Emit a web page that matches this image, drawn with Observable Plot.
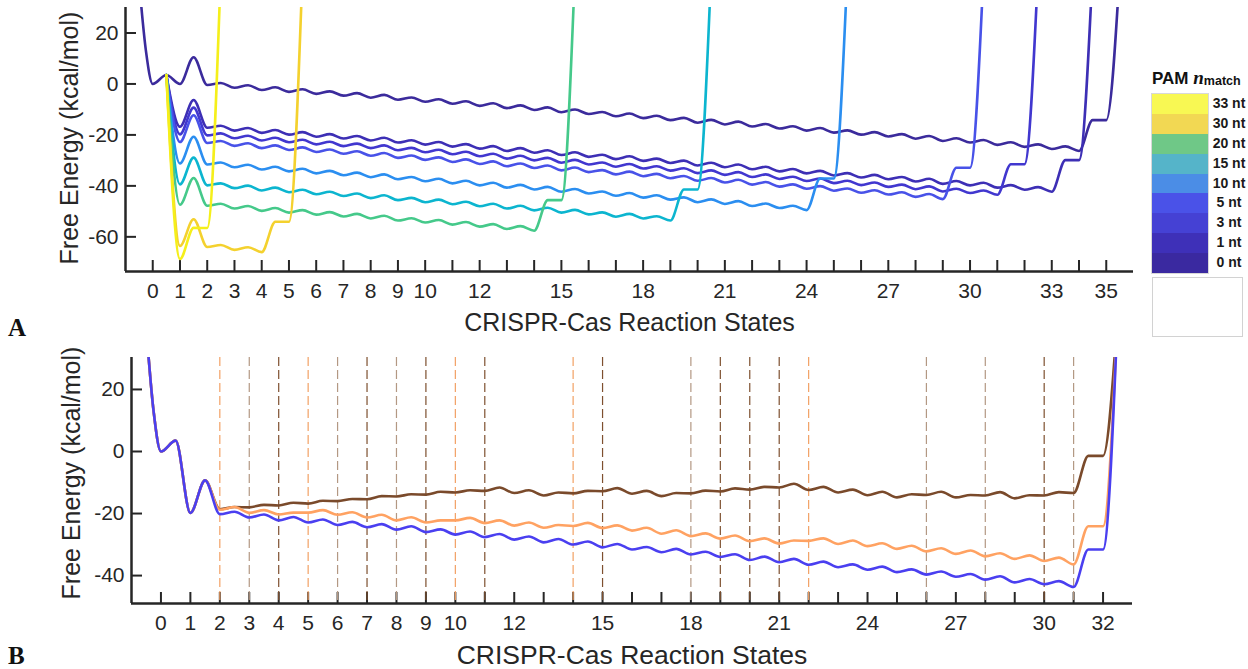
<!DOCTYPE html>
<html>
<head>
<meta charset="utf-8">
<script src="https://cdn.jsdelivr.net/npm/d3@7"></script>
<script src="https://cdn.jsdelivr.net/npm/@observablehq/plot@0.6"></script>
<style>
  html, body { margin: 0; padding: 0; background: #fff; }
  body { width: 1248px; height: 669px; overflow: hidden; font-family: "Liberation Sans", Arial, sans-serif; color: #262626; }
  #root { position: relative; width: 1248px; height: 669px; }
  #plotA, #plotB { position: absolute; left: 0; }
  #plotA { top: 0; }
  #plotB { top: 340px; }
  .panel { position: absolute; font-family: "Liberation Serif", "Times New Roman", serif; font-weight: bold; color: #111; line-height: 1; }
  .ylab { position: absolute; width: 280px; height: 30px; line-height: 30px; text-align: center; font-size: 25px; color: #262626; transform: rotate(-90deg); transform-origin: 50% 50%; white-space: nowrap; }
  #legend { position: absolute; left: 1152px; top: 68px; width: 96px; }
  #legendTitle { font-weight: bold; font-size: 17px; line-height: 20px; white-space: nowrap; color: #111; }
  #legendTitle i { font-family: "Liberation Serif", serif; font-size: 19px; font-weight: bold; }
  #legendTitle sub { font-size: 12.5px; vertical-align: -1px; }
  #legendRows { position: absolute; left: 0; top: 26px; width: 100px; }
  .lrow { position: relative; height: 19.9px; }
  .lsw { position: absolute; left: 0; top: 0; width: 56px; height: 19.9px; }
  .llab { position: absolute; left: 58px; width: 38px; top: 0; height: 19.9px; line-height: 19.9px; text-align: center; font-weight: bold; font-size: 14px; color: #1a1a1a; }
  #swBorder { position: absolute; left: -1px; top: 25px; width: 56px; height: 179px; border: 1px solid #d8d8d8; }
  #emptyBox { position: absolute; left: 1152px; top: 277px; width: 89px; height: 58px; border: 1px solid #d2d2d2; background: #fff; }
</style>
</head>
<body>
<div id="root">
  <div id="plotA"></div>
  <div id="plotB"></div>
  <div class="ylab" id="ylabA" style="left:-71px; top:123px;"></div>
  <div class="ylab" id="ylabB" style="left:-69px; top:458px;"></div>
  <div class="panel" style="left:8px; top:315px; font-size:25px;">A</div>
  <div class="panel" style="left:8px; top:643px; font-size:25px;">B</div>
  <div id="legend">
    <div id="legendTitle">PAM <i>n</i><sub>match</sub></div>
    <div id="swBorder"></div>
    <div id="legendRows"></div>
  </div>
  <div id="emptyBox"></div>
</div>
<script>
// ================= DATA =================
const yLabel = "Free Energy (kcal/mol)";
const xLabel = "CRISPR-Cas Reaction States";

// ---- Panel A ----
const tickLabelsA = [0,1,2,3,4,5,6,7,8,9,10,12,15,18,21,24,27,30,33,35];
const tickStatesA = d3.range(0, 36);
const yTicksA = [20, 0, -20, -40, -60];

// Shared entry of every landscape (state, energy)
const entryStates = [-0.5, -0.25, 0, 0.5];
const entryEnergy = [40, 13, 0, 3.5];
const exitEnergy = 45;   // energy reached just after the last plateau (off the top)

// Series (PAM n_match), drawn in this order
const seriesA = ["0 nt", "1 nt", "3 nt", "5 nt", "10 nt", "15 nt", "20 nt", "30 nt", "33 nt"];
const lineColorsA = ["#3b2b9c", "#3d2fb5", "#4137cf", "#4852e8", "#2b8ef0", "#0cb5cf", "#45c98a", "#f4d12e", "#f5ef1a"];
const legendColorsA = ["#3a29a0", "#3e30b8", "#4541d4", "#4a52e8", "#4b8de6", "#55b4c9", "#6fc887", "#f2d853", "#f8f853"];

// Energies at states 1, 1.5, 2, 2.5, ... (state minima and barriers)
const e0nt = [
  0.0, 10.5, -0.4, 0.4, -1.5, -0.5, -2.4, -1.3,
  -3.1, -2.1, -3.9, -2.9, -4.6, -3.6, -5.4, -4.3,
  -6.2, -5.3, -7.0, -6.0, -7.8, -6.8, -8.6, -7.6,
  -9.5, -8.4, -10.2, -9.2, -11.1, -10.0, -11.8, -11.0,
  -12.7, -11.6, -13.4, -12.5, -14.2, -13.3, -15.2, -14.1,
  -15.9, -14.8, -16.7, -15.7, -17.5, -16.6, -18.3, -17.3,
  -19.1, -18.2, -19.9, -18.9, -20.6, -19.7, -21.5, -20.4,
  -22.4, -21.3, -23.0, -22.0, -23.9, -22.9, -24.7, -23.7,
  -25.5, -24.5,
  -26.3];
const e1nt = [
  -16.8, -6.3, -17.2, -16.4, -18.3, -17.3, -19.2, -18.1,
  -19.9, -18.9, -20.7, -19.7, -21.4, -20.4, -22.2, -21.1,
  -23.0, -22.1, -23.8, -22.8, -24.6, -23.6, -25.4, -24.4,
  -26.3, -25.2, -27.0, -26.0, -27.9, -26.8, -28.6, -27.8,
  -29.5, -28.4, -30.2, -29.3, -31.0, -30.1, -32.0, -30.9,
  -32.7, -31.6, -33.5, -32.5, -34.3, -33.4, -35.1, -34.1,
  -35.9, -35.0, -36.7, -35.7, -37.4, -36.5, -38.3, -37.2,
  -39.2, -38.1, -39.8, -38.8, -40.7, -39.7, -41.5, -40.5,
  -42.3];
const e3nt = [
  -19.8, -9.3, -20.2, -19.4, -21.3, -20.3, -22.2, -21.1,
  -22.9, -21.9, -23.7, -22.7, -24.4, -23.4, -25.2, -24.1,
  -26.0, -25.1, -26.8, -25.8, -27.6, -26.6, -28.4, -27.4,
  -29.3, -28.2, -30.0, -29.0, -30.9, -29.8, -31.6, -30.8,
  -32.5, -31.4, -33.2, -32.3, -34.0, -33.1, -35.0, -33.9,
  -35.7, -34.6, -36.5, -35.5, -37.3, -36.4, -38.1, -37.1,
  -38.9, -38.0, -39.7, -38.7, -40.4, -39.5, -41.3, -40.2,
  -42.2, -41.1, -42.8, -41.8,
  -43.5];
const e5nt = [
  -22.8, -12.3, -23.2, -22.4, -24.3, -23.3, -25.2, -24.1,
  -25.9, -24.9, -26.7, -25.7, -27.4, -26.4, -28.2, -27.1,
  -29.0, -28.1, -29.8, -28.8, -30.6, -29.6, -31.4, -30.4,
  -32.3, -31.2, -33.0, -32.0, -33.9, -32.8, -34.6, -33.8,
  -35.5, -34.4, -36.2, -35.3, -37.0, -36.1, -38.0, -36.9,
  -38.7, -37.6, -39.5, -38.5, -40.3, -39.4, -41.1, -40.1,
  -41.9, -41.0, -42.7, -41.7, -43.4, -42.5, -44.3, -43.2,
  -45.2];
const e10nt = [
  -31.2, -20.7, -31.6, -30.8, -32.7, -31.7, -33.6, -32.5,
  -34.3, -33.3, -35.1, -34.1, -35.8, -34.8, -36.6, -35.5,
  -37.4, -36.5, -38.2, -37.2, -39.0, -38.0, -39.8, -38.8,
  -40.7, -39.6, -41.4, -40.4, -42.3, -41.2, -43.0, -42.2,
  -43.9, -42.8, -44.6, -43.7, -45.4, -44.5, -46.4, -45.3,
  -47.1, -46.0, -47.9, -46.9, -48.7, -47.8,
  -49.5];
const e15nt = [
  -39.4, -28.9, -39.8, -39.0, -40.9, -39.9, -41.8, -40.7,
  -42.5, -41.5, -43.3, -42.3, -44.0, -43.0, -44.8, -43.7,
  -45.6, -44.7, -46.4, -45.4, -47.2, -46.2, -48.0, -47.0,
  -48.9, -47.8, -49.6, -48.6, -50.5, -49.4, -51.2, -50.4,
  -52.1, -51.0, -52.8, -51.9,
  -53.6];
const e20nt = [
  -47.4, -36.9, -47.8, -47.0, -48.9, -47.9, -49.8, -48.7,
  -50.5, -49.5, -51.3, -50.3, -52.0, -51.0, -52.8, -51.7,
  -53.6, -52.7, -54.4, -53.4, -55.2, -54.2, -56.0, -55.0,
  -56.9, -55.8,
  -57.6];
const e30nt = [-63.6, -53.1, -64.0, -63.2, -65.1, -64.1, -66.0];
const e33nt = [-68.7];
const energiesA = [e0nt, e1nt, e3nt, e5nt, e10nt, e15nt, e20nt, e30nt, e33nt];
// Plateau just before leaving the landscape
const plateauA = [-14.2, -29.9, -31.5, -32.9, -37.1, -41.4, -45.6, -54.1, -56.5];

// ---- Panel B ----
const tickLabelsB = [0,1,2,3,4,5,6,7,8,9,10,12,15,18,21,24,27,30,32];
const tickStatesB = d3.range(0, 33);
const yTicksB = [20, 0, -20, -40];

const seriesB = ["brown", "orange", "blue"];
const lineColorsB = ["#7a4a2b", "#ffa262", "#4a3ff0"];
const eBrown = [
  -19.8, -9.3, -18.6, -17.9, -18.0, -17.2, -17.4, -16.5,
  -16.8, -15.9, -16.0, -15.3, -15.4, -14.4, -14.5, -13.8,
  -13.9, -13.0, -13.2, -12.5, -12.7, -11.6, -13.4, -12.5,
  -14.2, -13.2, -13.5, -12.7, -12.8, -11.8, -13.6, -12.7,
  -14.4, -13.4, -13.5, -12.6, -12.9, -11.9, -12.3, -11.4,
  -11.6, -10.4, -12.4, -11.4, -13.2, -12.3, -14.1, -13.0,
  -14.8, -13.8, -14.0, -13.0, -14.8, -14.0, -14.2, -13.1,
  -15.1, -14.1, -14.2, -13.1,
  -13.4];
const eOrange = [
  -19.8, -9.3, -18.8, -17.9, -19.8, -18.9, -20.3, -19.7,
  -19.7, -18.9, -20.4, -19.6, -21.3, -20.4, -22.2, -21.2,
  -22.9, -22.2, -22.2, -21.4, -23.1, -22.2, -23.9, -22.9,
  -24.6, -23.7, -24.0, -23.0, -24.7, -23.8, -25.5, -24.6,
  -26.5, -25.4, -27.3, -26.4, -28.1, -27.1, -28.9, -28.0,
  -29.7, -28.7, -28.8, -28.0, -29.8, -28.7, -30.5, -29.6,
  -31.4, -30.4, -32.2, -31.2, -33.0, -31.9, -33.8, -32.8,
  -34.6, -33.5, -35.3, -34.2,
  -36.4];
const eBlue = [
  -19.8, -9.3, -20.2, -19.4, -21.3, -20.3, -22.2, -21.1,
  -22.9, -21.9, -23.7, -22.7, -24.4, -23.4, -25.2, -24.1,
  -26.0, -25.1, -26.8, -25.8, -27.6, -26.6, -28.4, -27.4,
  -29.3, -28.2, -30.0, -29.0, -30.9, -29.8, -31.6, -30.8,
  -32.5, -31.4, -33.2, -32.3, -34.0, -33.1, -35.0, -33.9,
  -35.7, -34.6, -36.5, -35.5, -37.3, -36.4, -38.1, -37.1,
  -38.9, -38.0, -39.7, -38.7, -40.4, -39.5, -41.3, -40.2,
  -42.2, -41.1, -42.8, -41.8,
  -43.7];
const energiesB = [eBrown, eOrange, eBlue];
const plateauB = [-1.4, -24.1, -31.6];

// Dashed marker states in panel B
const dashStates = [2, 3, 4, 5, 6, 7, 8, 9, 10, 11, 14, 15, 18, 19, 20, 21, 22, 26, 28, 30, 31];
const dashKinds  = ["o","t","d","o","t","d","t","d","o","d","o","d","t","d","d","d","o","t","t","d","t"];
const dashColors = {o: "#f2a064", t: "#b39883", d: "#7e502f"};

// ================= BUILD =================
const AX = "#262626";
document.getElementById("ylabA").textContent = yLabel;
document.getElementById("ylabB").textContent = yLabel;

function landscape(name, energies, plateau, withEntry) {
  const pts = [];
  const n0 = withEntry ? 0 : entryStates.length - 1;
  for (let i = n0; i < entryStates.length; i++) pts.push({name, state: entryStates[i], energy: entryEnergy[i]});
  energies.forEach((v, i) => pts.push({name, state: 1 + i / 2, energy: v}));
  const last = 1 + (energies.length - 1) / 2;
  pts.push({name, state: last + 0.5, energy: plateau});
  pts.push({name, state: last + 1, energy: plateau});
  pts.push({name, state: last + 1.5, energy: exitEnergy});
  return pts;
}

function panel(o) {
  const plotW = o.width - o.ml - o.mr, plotH = o.height - o.mt - o.mb;
  return Plot.plot({
    width: o.width, height: o.height,
    marginTop: o.mt, marginBottom: o.mb, marginLeft: o.ml, marginRight: o.mr,
    style: {background: "transparent", fontFamily: "Liberation Sans, Arial, sans-serif", overflow: "visible"},
    x: {domain: o.xDomain},
    y: {domain: o.yDomain},
    marks: [
      Plot.tickX(o.allTicks, {x: d => d, insetTop: plotH - 11, stroke: AX, strokeWidth: 2}),
      Plot.tickY(o.yTicks, {y: d => d, insetRight: plotW - 11, stroke: AX, strokeWidth: 2}),
      Plot.ruleY([o.yDomain[0]], {stroke: AX, strokeWidth: 2.5}),
      Plot.ruleX([o.xDomain[0]], {stroke: AX, strokeWidth: 2.5}),
      Plot.axisX(o.labelTicks, {tickSize: 0, tickPadding: 12, fontSize: 21, color: AX, label: null, tickFormat: d => String(d)}),
      Plot.axisY(o.yTicks, {tickSize: 0, tickPadding: 7, fontSize: 21, color: AX, label: null, tickFormat: d => String(d)}),
      Plot.text([xLabel], {text: d => d, frameAnchor: "bottom", dy: o.xLabelDy, fontSize: o.xLabelSize, fill: AX}),
      ...o.extra,
      ...o.curves.map(c => Plot.line(c.points, {x: "state", y: "energy", stroke: c.color, strokeWidth: 2.6,
        curve: "monotone-x", clip: true, strokeLinejoin: "round"}))
    ]
  });
}

const curvesA = seriesA.map((name, i) => ({
  color: lineColorsA[i],
  points: landscape(name, energiesA[i], plateauA[i], i === 0)
}));

const svgA = panel({
  width: 1150, height: 340, mt: 7, mb: 69, ml: 125, mr: 17,
  xDomain: [-1, 36], yDomain: [-73.6, 30],
  allTicks: tickStatesA, labelTicks: tickLabelsA, yTicks: yTicksA,
  xLabelDy: 59, xLabelSize: 25,
  extra: [], curves: curvesA
});
document.getElementById("plotA").append(svgA);

const curvesB = seriesB.map((name, i) => ({
  color: lineColorsB[i],
  points: landscape(name, energiesB[i], plateauB[i], true)
}));

const dashMarks = Object.keys(dashColors).map(k =>
  Plot.ruleX(dashStates.filter((d, i) => dashKinds[i] === k), {x: d => d, stroke: dashColors[k], strokeWidth: 1.2, strokeDasharray: "9,4"})
);

const svgB = panel({
  width: 1150, height: 329, mt: 17, mb: 66, ml: 131, mr: 18,
  xDomain: [-1, 33], yDomain: [-49, 30.3],
  allTicks: tickStatesB, labelTicks: tickLabelsB, yTicks: yTicksB,
  xLabelDy: 60, xLabelSize: 26.5,
  extra: dashMarks, curves: curvesB
});
document.getElementById("plotB").append(svgB);

// ---- Legend (panel A) ----
const rows = document.getElementById("legendRows");
for (let i = seriesA.length - 1; i >= 0; i--) {
  const r = document.createElement("div"); r.className = "lrow";
  const sw = document.createElement("div"); sw.className = "lsw"; sw.style.background = legendColorsA[i];
  const lb = document.createElement("div"); lb.className = "llab"; lb.textContent = seriesA[i];
  r.append(sw, lb); rows.append(r);
}
</script>
</body>
</html>
